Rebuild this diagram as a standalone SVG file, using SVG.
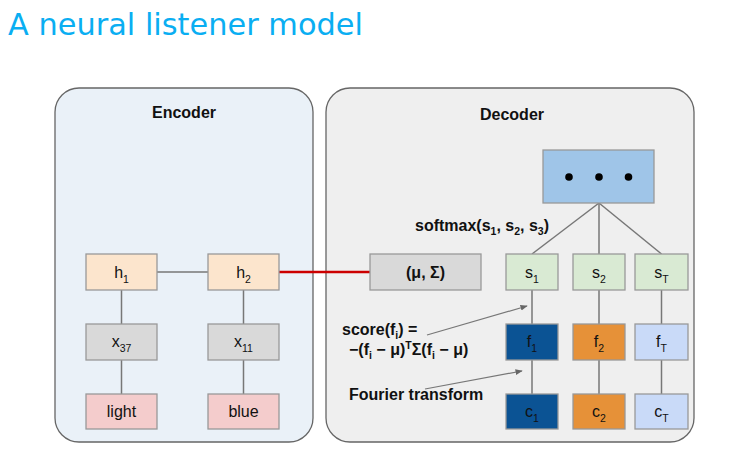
<svg xmlns="http://www.w3.org/2000/svg" width="746" height="464" viewBox="0 0 746 464">
  <defs>
    <style>
      .title { font-family: "DejaVu Sans", sans-serif; font-size: 30.4px; fill: #0aaef2; }
      .panel { stroke: #666; stroke-width: 1.3; }
      .box { stroke: #999; stroke-width: 1.3; }
      .lbl { font-family: "Liberation Sans", Arial, sans-serif; font-size: 16px; fill: #111; text-anchor: middle; }
      .bold { font-family: "Liberation Sans", Arial, sans-serif; font-size: 16px; font-weight: bold; fill: #111; }
      .sub { font-size: 10.5px; }
      .edge { stroke: #777; stroke-width: 1.5; fill: none; }
      .ptr { stroke: #777; stroke-width: 1.2; fill: none; marker-end: url(#head); }
    </style>
    <marker id="head" viewBox="0 0 10 10" refX="9" refY="5" markerWidth="6" markerHeight="6" orient="auto">
      <path d="M0,1 L10,5 L0,9 z" fill="#666"/>
    </marker>
  </defs>

  <rect width="746" height="464" fill="#ffffff"/>

  <text class="title" x="8" y="35">A neural listener model</text>

  <!-- panels -->
  <g id="encoder">
    <rect class="panel" x="55" y="88" width="258" height="354" rx="24" fill="#eaf1f8"/>
    <text class="bold" x="184" y="118" text-anchor="middle">Encoder</text>
  </g>
  <g id="decoder">
    <rect class="panel" x="326" y="88" width="368" height="354" rx="24" fill="#efefef"/>
    <text class="bold" x="512" y="120" text-anchor="middle">Decoder</text>
  </g>

  <!-- connectors -->
  <g id="connectors">
    <line class="edge" x1="157" y1="272" x2="208" y2="272"/>
    <line class="edge" x1="121.5" y1="290" x2="121.5" y2="324"/>
    <line class="edge" x1="121.5" y1="360" x2="121.5" y2="394"/>
    <line class="edge" x1="243.5" y1="290" x2="243.5" y2="324"/>
    <line class="edge" x1="243.5" y1="360" x2="243.5" y2="394"/>
    <line x1="279" y1="272" x2="370" y2="272" stroke="#cc0000" stroke-width="2.6"/>
    <line class="edge" x1="599" y1="203" x2="532" y2="254"/>
    <line class="edge" x1="599" y1="203" x2="599" y2="254"/>
    <line class="edge" x1="599" y1="203" x2="661.5" y2="254"/>
    <line class="edge" x1="532" y1="290" x2="532" y2="324"/>
    <line class="edge" x1="532" y1="360" x2="532" y2="394"/>
    <line class="edge" x1="599" y1="290" x2="599" y2="324"/>
    <line class="edge" x1="599" y1="360" x2="599" y2="394"/>
    <line class="edge" x1="661.5" y1="290" x2="661.5" y2="324"/>
    <line class="edge" x1="661.5" y1="360" x2="661.5" y2="394"/>
    <line class="ptr" x1="427" y1="335" x2="527" y2="306"/>
    <line class="ptr" x1="425" y1="389" x2="522" y2="371"/>
  </g>

  <!-- encoder nodes -->
  <g id="h1">
    <rect class="box" x="86" y="254" width="71" height="36" fill="#fce5cd"/>
    <text class="lbl" x="121.5" y="278">h<tspan class="sub" dy="5">1</tspan></text>
  </g>
  <g id="h2">
    <rect class="box" x="208" y="254" width="71" height="36" fill="#fce5cd"/>
    <text class="lbl" x="243.5" y="278">h<tspan class="sub" dy="5">2</tspan></text>
  </g>
  <g id="x37">
    <rect class="box" x="86" y="324" width="71" height="36" fill="#d9d9d9"/>
    <text class="lbl" x="121.5" y="347">x<tspan class="sub" dy="5">37</tspan></text>
  </g>
  <g id="x11">
    <rect class="box" x="208" y="324" width="71" height="36" fill="#d9d9d9"/>
    <text class="lbl" x="243.5" y="347">x<tspan class="sub" dy="5">11</tspan></text>
  </g>
  <g id="light">
    <rect class="box" x="86" y="394" width="71" height="35" fill="#f4cccc"/>
    <text class="lbl" x="121.5" y="417">light</text>
  </g>
  <g id="blue">
    <rect class="box" x="208" y="394" width="71" height="35" fill="#f4cccc"/>
    <text class="lbl" x="243.5" y="417">blue</text>
  </g>

  <!-- decoder nodes -->
  <g id="params">
    <rect class="box" x="370" y="254" width="111" height="36" fill="#d9d9d9"/>
    <text class="bold" x="425.5" y="278" text-anchor="middle">(μ, Σ)</text>
  </g>
  <g id="softmax">
    <rect class="box" x="543" y="150" width="111" height="53" fill="#9fc5e8"/>
    <circle cx="569" cy="177" r="3.8" fill="#000"/>
    <circle cx="599" cy="177" r="3.8" fill="#000"/>
    <circle cx="628.5" cy="177" r="3.8" fill="#000"/>
    <text class="bold" x="415" y="231">softmax(s<tspan class="sub" dy="4">1</tspan><tspan dy="-4">, s</tspan><tspan class="sub" dy="4">2</tspan><tspan dy="-4">, s</tspan><tspan class="sub" dy="4">3</tspan><tspan dy="-4">)</tspan></text>
  </g>
  <g id="s1">
    <rect class="box" x="506" y="254" width="52" height="36" fill="#d9ead3"/>
    <text class="lbl" x="532" y="278">s<tspan class="sub" dy="5">1</tspan></text>
  </g>
  <g id="s2">
    <rect class="box" x="573" y="254" width="52" height="36" fill="#d9ead3"/>
    <text class="lbl" x="599" y="278">s<tspan class="sub" dy="5">2</tspan></text>
  </g>
  <g id="sT">
    <rect class="box" x="635" y="254" width="53" height="36" fill="#d9ead3"/>
    <text class="lbl" x="661.5" y="278">s<tspan class="sub" dy="5">T</tspan></text>
  </g>
  <g id="f1">
    <rect class="box" x="506" y="324" width="52" height="36" fill="#0b5394"/>
    <text class="lbl" x="532" y="347">f<tspan class="sub" dy="5">1</tspan></text>
  </g>
  <g id="f2">
    <rect class="box" x="573" y="324" width="52" height="36" fill="#e69138"/>
    <text class="lbl" x="599" y="347">f<tspan class="sub" dy="5">2</tspan></text>
  </g>
  <g id="fT">
    <rect class="box" x="635" y="324" width="53" height="36" fill="#c9daf8"/>
    <text class="lbl" x="661.5" y="347">f<tspan class="sub" dy="5">T</tspan></text>
  </g>
  <g id="c1">
    <rect class="box" x="506" y="394" width="52" height="35" fill="#0b5394"/>
    <text class="lbl" x="532" y="417">c<tspan class="sub" dy="5">1</tspan></text>
  </g>
  <g id="c2">
    <rect class="box" x="573" y="394" width="52" height="35" fill="#e69138"/>
    <text class="lbl" x="599" y="417">c<tspan class="sub" dy="5">2</tspan></text>
  </g>
  <g id="cT">
    <rect class="box" x="635" y="394" width="53" height="35" fill="#c9daf8"/>
    <text class="lbl" x="661.5" y="417">c<tspan class="sub" dy="5">T</tspan></text>
  </g>

  <!-- annotations -->
  <g id="score-label">
    <text class="bold" x="342" y="335">score(f<tspan class="sub" dy="4">i</tspan><tspan dy="-4">) =</tspan></text>
    <text class="bold" x="349" y="355">−(f<tspan class="sub" dy="4">i</tspan><tspan dy="-4"> − μ)</tspan><tspan class="sub" dy="-6">T</tspan><tspan dy="6">Σ(f</tspan><tspan class="sub" dy="4">i</tspan><tspan dy="-4"> − μ)</tspan></text>
  </g>
  <g id="fourier-label">
    <text class="bold" x="349" y="400">Fourier transform</text>
  </g>
</svg>
